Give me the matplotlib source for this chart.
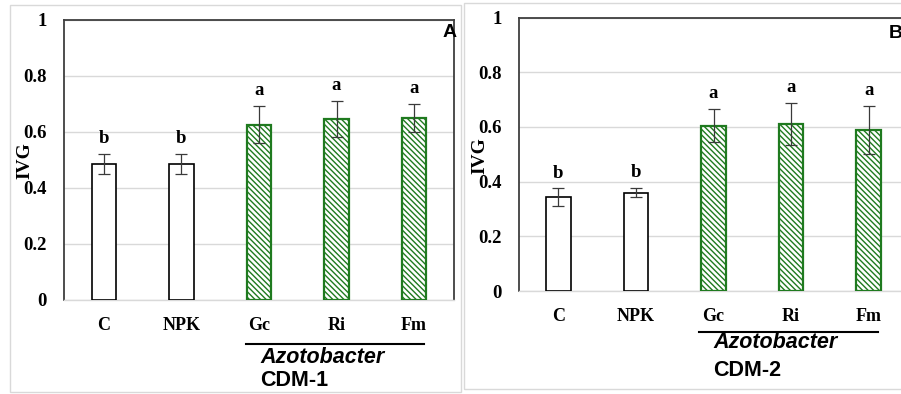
import matplotlib
matplotlib.use("Agg")
import matplotlib.pyplot as plt
from matplotlib.patches import Rectangle
from matplotlib.lines import Line2D

categories = ["C", "NPK", "Gc", "Ri", "Fm"]
means_A = [0.486, 0.486, 0.626, 0.646, 0.650]
err_A = [0.037, 0.037, 0.067, 0.065, 0.050]
letters_A = ["b", "b", "a", "a", "a"]
means_B = [0.343, 0.360, 0.605, 0.610, 0.590]
err_B = [0.032, 0.018, 0.060, 0.077, 0.088]
letters_B = ["b", "b", "a", "a", "a"]
yticks = [0, 0.2, 0.4, 0.6, 0.8, 1.0]
ytick_labels = ["0", "0.2", "0.4", "0.6", "0.8", "1"]
group_label = "Azotobacter"

W, H = 901, 394
fig = plt.figure(figsize=(W / 100, H / 100), dpi=100)
plt.rcParams['hatch.linewidth'] = 1.0

GREEN = "#1f7a1f"
SERIF = "Liberation Serif"
SANS = "Liberation Sans"

# outer light borders
for (x0, y0, x1, y1) in [(10, 5, 461, 392), (464, 3, 906, 389)]:
    fig.patches.append(Rectangle((x0 / W, 1 - y1 / H), (x1 - x0) / W, (y1 - y0) / H,
                                 transform=fig.transFigure, fill=False,
                                 edgecolor="#d9d9d9", lw=1.0))

def panel(px_left, px_right, px_top, px_bottom, xpad, means, errs, letters,
          tag, cdm, line_ax, txt_ax, cdm_y, ivg_pos, tag_pos):
    ax = fig.add_axes([px_left / W, 1 - px_bottom / H,
                       (px_right - px_left) / W, (px_bottom - px_top) / H])
    x = list(range(len(categories)))
    edges = ["black", "black", GREEN, GREEN, GREEN]
    hatches = ["", "", "\\" * 6, "\\" * 6, "\\" * 6]
    for i in x:
        ax.bar(i, means[i], width=0.32, color="white", edgecolor=edges[i],
               linewidth=1.2 if i < 2 else 1.6, hatch=hatches[i], zorder=3)
    ax.errorbar(x, means, yerr=errs, fmt="none", ecolor="#3a3a3a",
                elinewidth=0.9, capsize=4, capthick=0.9, zorder=4)
    for i in x:
        ax.annotate(letters[i], (i, means[i] + errs[i]), xytext=(0, 11),
                    textcoords="offset points", ha="center", va="center",
                    fontsize=13.5, fontweight="bold", family=SERIF, zorder=5)
    ax.set_xlim(-xpad, len(categories) - 1 + xpad)
    ax.set_ylim(0, 1)
    ax.set_yticks(yticks)
    ax.set_yticklabels(ytick_labels)
    ax.set_xticks(x)
    ax.set_xticklabels(categories)
    for lab in ax.get_yticklabels():
        lab.set_fontfamily(SERIF)
        lab.set_fontweight("bold")
        lab.set_fontsize(13.5)
    for lab in ax.get_xticklabels():
        lab.set_fontfamily(SERIF)
        lab.set_fontweight("bold")
        lab.set_fontsize(13)
    ax.tick_params(axis="y", length=0, pad=12.5)
    ax.tick_params(axis="x", length=0, pad=12)
    ax.grid(axis="y", color="#d9d9d9", lw=1.0, zorder=0)
    ax.set_axisbelow(True)
    for s in ["left", "top", "right"]:
        ax.spines[s].set_color("#3f3f3f")
        ax.spines[s].set_linewidth(1.3)
    ax.spines["bottom"].set_color("#d9d9d9")
    ax.spines["bottom"].set_linewidth(1.0)
    ax.add_line(Line2D([line_ax[0], line_ax[1]], [line_ax[2], line_ax[2]],
                       transform=ax.transAxes, color="black", lw=1.5,
                       clip_on=False))
    ax.text(txt_ax[0], txt_ax[1], group_label, transform=ax.transAxes,
            ha="left", va="center", fontsize=15.5, fontstyle="italic",
            fontweight="bold", family=SANS)
    ax.text(txt_ax[0], cdm_y, cdm, transform=ax.transAxes,
            ha="left", va="center", fontsize=15.5, fontweight="bold", family=SANS)
    ax.text(ivg_pos[0], ivg_pos[1], "IVG", transform=ax.transAxes, rotation=90,
            ha="center", va="center", fontsize=14, fontweight="bold", family=SERIF)
    ax.text(tag_pos[0], tag_pos[1], tag, transform=ax.transAxes, ha="left",
            va="center", fontsize=14, fontweight="bold", family=SANS, clip_on=False)
    return ax

panel(64, 454, 20, 300, 0.516, means_A, err_A, letters_A, "A", "CDM-1",
      (0.467, 0.923, -0.157), (0.503, -0.204), -0.289, (-0.10, 0.497), (0.970, 0.957))
panel(519, 908, 17.5, 291, 0.507, means_B, err_B, letters_B, "B", "CDM-2",
      (0.462, 0.922, -0.150), (0.499, -0.190), -0.289, (-0.10, 0.494), (0.950, 0.943))

fig.savefig("out.png", dpi=100)
